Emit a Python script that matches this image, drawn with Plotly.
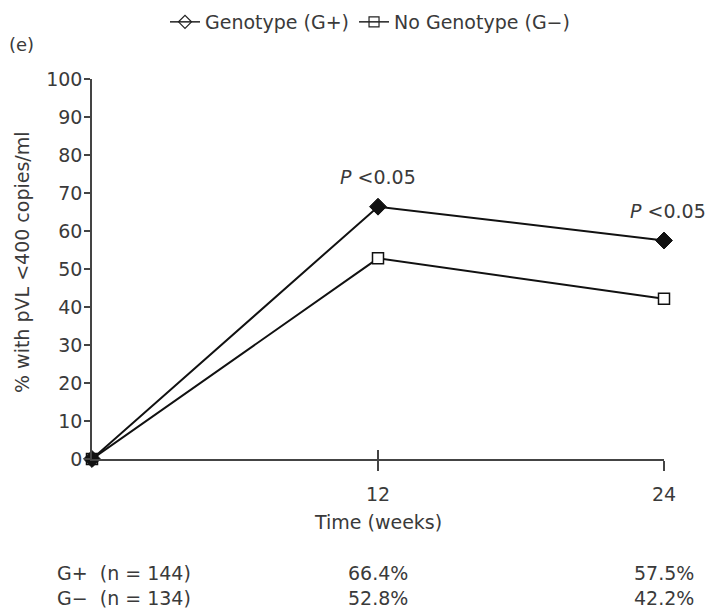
import plotly.graph_objects as go

# Data
weeks = [0, 12, 24]
g_plus = [0, 66.4, 57.5]
g_minus = [0, 52.8, 42.2]
n_plus = 144
n_minus = 134
p_labels = ["P <0.05", "P <0.05"]
x_ticks = [12, 24]
y_ticks = list(range(0, 101, 10))

FONT = "DejaVu Sans, Liberation Sans, Arial, sans-serif"
TXT = "#3a3a3a"
FS = 19

W, H = 708, 613
L, R, T, B = 92, 44, 79, 154
pw, ph = W - L - R, H - T - B


def px(x):
    return (x - L) / pw


def py(y):
    return (H - B - y) / ph


def note(x, y, text, xref="paper", yref="paper", **kw):
    d = dict(x=x, y=y, xref=xref, yref=yref, text=text, showarrow=False,
             xanchor="center", yanchor="middle",
             font=dict(size=FS, color=TXT, family=FONT))
    d.update(kw)
    return d


fig = go.Figure()

# G- series (open squares)
fig.add_trace(go.Scatter(
    x=weeks, y=g_minus, mode="lines+markers", showlegend=False,
    line=dict(color="#111", width=2),
    marker=dict(symbol="square", size=11, color="white",
                line=dict(color="#111", width=1.5)),
    cliponaxis=False,
))
# G+ series (filled diamonds)
fig.add_trace(go.Scatter(
    x=weeks, y=g_plus, mode="lines+markers", showlegend=False,
    line=dict(color="#111", width=2),
    marker=dict(symbol="diamond", size=13, color="#111",
                line=dict(color="#111", width=1)),
    cliponaxis=False,
))
# Legend entries
fig.add_trace(go.Scatter(
    x=[None], y=[None], mode="lines+markers", name="Genotype (G+)",
    line=dict(color="#222", width=1.5),
    marker=dict(symbol="diamond-open", size=10, color="#222", line=dict(width=1.2)),
))
fig.add_trace(go.Scatter(
    x=[None], y=[None], mode="lines+markers", name="No Genotype (G\u2212)",
    line=dict(color="#222", width=1.5),
    marker=dict(symbol="square-open", size=10, color="#222", line=dict(width=1.2)),
))
# Inward x ticks (overlay axis)
fig.add_trace(go.Scatter(x=[None], y=[None], xaxis="x2", showlegend=False))

ann = []
# P-value labels
for xi, yi, lab, dx, dy in [(weeks[1], g_plus[1], p_labels[0], 0, 30),
                            (weeks[2], g_plus[2], p_labels[1], 4, 30)]:
    t = lab.replace("P", "<i>P</i>", 1).replace("<0", "&lt;0")
    ann.append(note(xi, yi, t, xref="x", yref="y", xshift=dx, yshift=dy))

# Panel letter
ann.append(note(px(21), py(45), "(e)", font=dict(size=FS - 1, color=TXT, family=FONT)))
# Axis titles
ann.append(note(px(22), py(262), "% with pVL &lt;400 copies/ml", textangle=-90))
ann.append(note(0.5, py(522), "Time (weeks)"))

# Table beneath the axis
rows = [("G+", n_plus, g_plus, 573), ("G\u2212", n_minus, g_minus, 598)]
for name, n, vals, ypix in rows:
    ann.append(note(px(55), py(ypix), f"{name}&nbsp;&nbsp;(n = {n})", xanchor="left"))
    for xi, v in zip(weeks[1:], vals[1:]):
        ann.append(note(xi, py(ypix), f"{v:.1f}%", xref="x"))

fig.update_layout(
    width=W, height=H,
    margin=dict(l=L, r=R, t=T, b=B, autoexpand=False),
    paper_bgcolor="white", plot_bgcolor="white",
    font=dict(family=FONT, size=FS, color=TXT),
    showlegend=True,
    legend=dict(orientation="h", x=px(370), xanchor="center", y=py(22),
                yanchor="middle", font=dict(size=FS, color=TXT),
                itemwidth=30, bgcolor="rgba(0,0,0,0)"),
    xaxis=dict(range=[0, 24], tickvals=x_ticks, ticks="outside", ticklen=10,
               tickwidth=1.5, tickcolor="#444", showline=True, linecolor="#444",
               linewidth=1.5, showgrid=False, zeroline=False,
               ticklabelstandoff=7, tickfont=dict(size=FS, color=TXT)),
    xaxis2=dict(range=[0, 24], overlaying="x", anchor="y", side="bottom",
                tickvals=x_ticks, ticks="inside", ticklen=9, tickwidth=1.5,
                tickcolor="#444", showticklabels=False, showline=False,
                showgrid=False, zeroline=False),
    yaxis=dict(range=[0, 100], tickvals=y_ticks, ticks="outside", ticklen=6,
               tickwidth=1.5, tickcolor="#444", showline=True, linecolor="#444",
               linewidth=1.5, showgrid=False, zeroline=False,
               ticklabelstandoff=-2, tickfont=dict(size=FS, color=TXT)),
    annotations=ann,
)

fig.write_html("out.html")
